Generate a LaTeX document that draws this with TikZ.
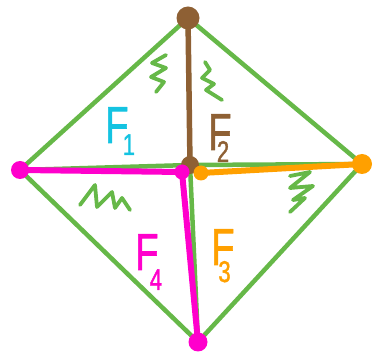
\documentclass[tikz,border=0pt]{standalone}
\usepackage{fontspec}
\setmainfont{Liberation Sans}
\newfontfamily\handfont[FakeBold=1.5]{Liberation Sans}
\definecolor{grn}{RGB}{102,184,72}
\definecolor{brn}{RGB}{142,96,52}
\definecolor{mag}{RGB}{255,0,204}
\definecolor{org}{RGB}{255,160,0}
\definecolor{cyn}{RGB}{20,195,225}
\newcommand{\flab}[3]{F\kern#2\raisebox{-#3}{\fontsize{30}{30}\selectfont #1}}
\begin{document}
\begin{tikzpicture}[x=1pt,y=-1pt,line cap=round,line join=round,
  edge/.style={draw=grn,line width=4.5pt},
  squig/.style={draw=grn,line width=3.8pt},
  dot/.style={circle,inner sep=0pt,minimum size=20pt},
  lab/.style={font=\handfont\fontsize{52}{52}\selectfont,inner sep=0pt,xscale=0.74,anchor=base west}]
\useasboundingbox (0,0) rectangle (375,355);
% vertices
\coordinate (T) at (188,18);
\coordinate (L) at (20,170);
\coordinate (R) at (362,164);
\coordinate (B) at (198,342);
\coordinate (C) at (190,165);
\coordinate (Cm) at (182,172);
\coordinate (Co) at (201,173);
% green edges
\draw[edge] (T) -- (R) -- (B) -- (L) -- cycle;
\draw[edge] (T) -- (C) -- (B);
\draw[edge] (L) -- (C) -- (R);
% squiggles
\draw[squig] (166,55) -- (152,63) -- (166,68) -- (151,77) -- (164,82) -- (156,92);
\draw[squig] (205,62) -- (210,70) -- (202,78) -- (214,84) -- (206,90) -- (222,100);
\draw[squig] (80,205) -- (95,185) -- (97,207) -- (112,192) -- (115,208) -- (122,198) -- (130,210);
\draw[squig] (290,176) -- (310,172) -- (290,188) -- (313,186) -- (293,200) -- (305,198) -- (290,212);
% coloured edges
\draw[draw=brn,line width=5.5pt] (T) -- (C);
\draw[draw=mag,line width=6pt] (L) -- (Cm) -- (B);
\draw[draw=org,line width=6pt] (Co) -- (R);
% dots
\node[dot,fill=brn,minimum size=23pt] (nT) at (T) {};
\node[dot,fill=brn,minimum size=18pt] (nC) at (C) {};
\node[dot,fill=mag,minimum size=18pt] (nL) at (L) {};
\node[dot,fill=mag,minimum size=15pt] (nCm) at (Cm) {};
\node[dot,fill=org,minimum size=15pt] (nCo) at (Co) {};
\node[dot,fill=org,minimum size=20pt] (nR) at (R) {};
\node[dot,fill=mag,minimum size=19pt] (nB) at (B) {};
% labels
\node[lab,text=cyn] (F1) at (105,143) {\flab{1}{-8pt}{12pt}};
\node[lab,text=brn] (F2) at (208,150) {\flab{2}{-20pt}{12pt}};
\node[lab,text=mag] (F4) at (135,270) {\flab{4}{-12pt}{20pt}};
\node[lab,text=org] (F3) at (211,265) {\flab{3}{-22pt}{17pt}};
\end{tikzpicture}
\end{document}
